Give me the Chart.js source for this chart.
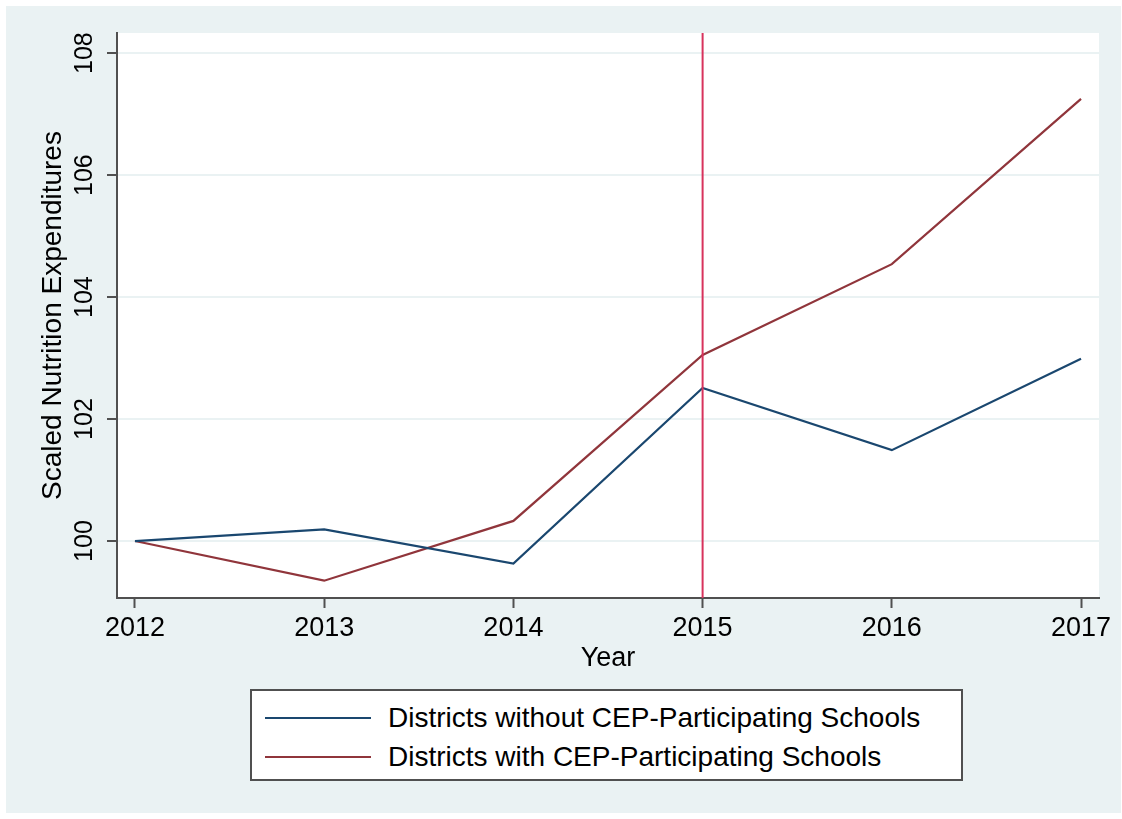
<!DOCTYPE html>
<html>
<head>
<meta charset="utf-8">
<script src="https://cdn.jsdelivr.net/npm/chart.js@4/dist/chart.umd.min.js"></script>
<style>
  body { margin: 0; background: #fff; }
  #wrap { position: relative; width: 1122px; height: 819px; }
  #grafico { position: absolute; left: 0; top: 0; }
  #leyenda {
    position: absolute; left: 250px; top: 689px; width: 713px; height: 92px;
    box-sizing: border-box; border: 2px solid #505050; background: #fff;
    font-family: "Liberation Sans", Arial, sans-serif; font-size: 28px; color: #000;
  }
  .fila { position: absolute; left: 0; height: 32px; line-height: 32px; white-space: nowrap; }
  .muestra { position: absolute; left: 13px; top: 15px; width: 106px; height: 2px; }
  .texto { position: absolute; left: 136px; top: 0; }
</style>
</head>
<body>
<div id="wrap">
  <canvas id="grafico" width="1122" height="819"></canvas>
  <div id="leyenda"></div>
</div>
<script>
const years = [2012, 2013, 2014, 2015, 2016, 2017];
const withoutCEP = [100, 100.19, 99.63, 102.51, 101.49, 102.99];
const withCEP = [100, 99.35, 100.33, 103.05, 104.54, 107.25];
const yTicks = [100, 102, 104, 106, 108];
const seriesLabels = ["Districts without CEP-Participating Schools", "Districts with CEP-Participating Schools"];
const seriesColors = ["#1A476F", "#90353B"];
const policyYear = 2015;

const X_MIN = 2011.905, X_MAX = 2017.095;
const Y_MIN = 99.066, Y_MAX = 108.33;
const FUENTE = "'Liberation Sans', Arial, sans-serif";

function puntos(valores) {
    return years.map((yr, i) => ({ x: yr, y: valores[i] }));
}

// fondo gris-azulado de Stata y area del grafico en blanco
const fondo = {
    id: "fondo",
    beforeDraw(chart) {
        const ctx = chart.ctx;
        const a = chart.chartArea;
        ctx.save();
        ctx.fillStyle = "#ffffff";
        ctx.fillRect(0, 0, chart.width, chart.height);
        ctx.fillStyle = "#EAF2F3";
        ctx.fillRect(6, 6, 1115, 807);
        ctx.fillStyle = "#ffffff";
        ctx.fillRect(a.left, a.top, a.right - a.left, a.bottom - a.top);
        ctx.restore();
    }
};

const datos = {
    datasets: [
        {
            label: seriesLabels[0],
            data: puntos(withoutCEP),
            borderColor: seriesColors[0],
            borderWidth: 2.2,
            pointRadius: 0,
            tension: 0,
            order: 2
        },
        {
            label: seriesLabels[1],
            data: puntos(withCEP),
            borderColor: seriesColors[1],
            borderWidth: 2.2,
            pointRadius: 0,
            tension: 0,
            order: 3
        },
        {
            label: "policy",
            data: [{ x: policyYear, y: Y_MIN }, { x: policyYear, y: Y_MAX }],
            borderColor: "#D8325C",
            borderWidth: 2,
            pointRadius: 0,
            order: 1
        }
    ]
};

const config = {
    type: "line",
    data: datos,
    plugins: [fondo],
    options: {
        responsive: false,
        animation: false,
        layout: { padding: { left: 36, top: 33, right: 23, bottom: 144 } },
        plugins: { legend: { display: false }, tooltip: { enabled: false } },
        scales: {
            x: {
                type: "linear",
                min: X_MIN,
                max: X_MAX,
                afterBuildTicks: s => { s.ticks = years.map(v => ({ value: v })); },
                afterFit: s => { s.height = 77; s.paddingLeft = 0; s.paddingRight = 0; },
                ticks: {
                    color: "#000",
                    font: { family: FUENTE, size: 27 },
                    padding: 4,
                    maxRotation: 0,
                    callback: v => String(v)
                },
                grid: { drawOnChartArea: false, tickLength: 10, tickColor: "#505050", tickWidth: 2 },
                border: { color: "#505050", width: 2 },
                title: {
                    display: true,
                    text: "Year",
                    color: "#000",
                    font: { family: FUENTE, size: 27 },
                    padding: 0
                }
            },
            y: {
                min: Y_MIN,
                max: Y_MAX,
                afterBuildTicks: s => { s.ticks = yTicks.map(v => ({ value: v })); },
                afterFit: s => { s.width = 81; s.paddingTop = 0; s.paddingBottom = 0; },
                ticks: {
                    color: "#000",
                    font: { family: FUENTE, size: 25 },
                    padding: 1,
                    minRotation: 90,
                    maxRotation: 90,
                    crossAlign: "center",
                    callback: v => String(v)
                },
                grid: { color: "#EAF2F3", lineWidth: 2, tickLength: 10, tickColor: "#505050", tickWidth: 2 },
                border: { color: "#505050", width: 2 },
                title: {
                    display: true,
                    text: "Scaled Nutrition Expenditures",
                    color: "#000",
                    font: { family: FUENTE, size: 28 },
                    padding: 0
                }
            }
        }
    }
};

const ctx = document.getElementById("grafico").getContext("2d");
new Chart(ctx, config);

// leyenda con marco, como en Stata
const leyenda = document.getElementById("leyenda");
seriesLabels.forEach((txt, i) => {
    const fila = document.createElement("div");
    fila.className = "fila";
    fila.style.top = (11 + i * 39) + "px";
    fila.innerHTML = '<span class="muestra" style="background:' + seriesColors[i] + '"></span>' +
        '<span class="texto">' + txt + '</span>';
    leyenda.appendChild(fila);
});
</script>
</body>
</html>
